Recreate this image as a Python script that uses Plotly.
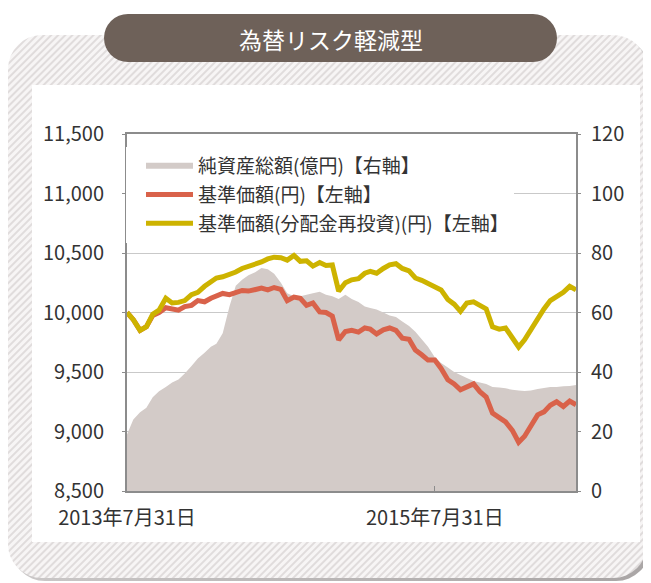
import base64
import plotly.graph_objects as go

# ---------------- data ----------------
dates = [
    "2013-07-31", "2013-08-15", "2013-08-31", "2013-09-15", "2013-09-30", "2013-10-15", "2013-10-31",
    "2013-11-15", "2013-11-30", "2013-12-15", "2013-12-31",
    "2014-01-15", "2014-01-31", "2014-02-15", "2014-02-28", "2014-03-15", "2014-03-31",
    "2014-04-15", "2014-04-30", "2014-05-15", "2014-05-31", "2014-06-15", "2014-06-30",
    "2014-07-15", "2014-07-31", "2014-08-15", "2014-08-31", "2014-09-15", "2014-09-30",
    "2014-10-15", "2014-10-31", "2014-11-15", "2014-11-30", "2014-12-15", "2014-12-31",
    "2015-01-15", "2015-01-31", "2015-02-15", "2015-02-28", "2015-03-15", "2015-03-31",
    "2015-04-15", "2015-04-30", "2015-05-15", "2015-05-31", "2015-06-15", "2015-06-30",
    "2015-07-15", "2015-07-31", "2015-08-15", "2015-08-31", "2015-09-15", "2015-09-30",
    "2015-10-15", "2015-10-31", "2015-11-15", "2015-11-30", "2015-12-15", "2015-12-31",
    "2016-01-15", "2016-01-31", "2016-02-15", "2016-02-29", "2016-03-15", "2016-03-31",
    "2016-04-15", "2016-04-30", "2016-05-15", "2016-05-31", "2016-06-15", "2016-06-30",
]

nav = [  # 基準価額(円) 左軸
    10000, 9940, 9850, 9880, 9975, 10000, 10040,
    10030, 10020, 10050, 10060,
    10100, 10090, 10120, 10140, 10160, 10150,
    10170, 10185, 10180, 10195, 10205, 10190,
    10210, 10195, 10100, 10130, 10120, 10060,
    10080, 10005, 10000, 9970, 9770, 9840,
    9850, 9835, 9870, 9860, 9820, 9855,
    9870, 9850, 9785, 9775, 9685, 9645,
    9600, 9600, 9530, 9435, 9400, 9350,
    9375, 9400, 9335, 9290, 9155, 9120,
    9080, 9010, 8910, 8960, 9040, 9140,
    9165, 9220, 9250, 9210, 9255, 9225,
]

nav_reinvested = [  # 基準価額(分配金再投資)(円) 左軸
    10000, 9940, 9850, 9880, 9985, 10020, 10120,
    10080, 10085, 10100, 10150,
    10170, 10220, 10255, 10290, 10300, 10320,
    10340, 10370, 10385, 10400, 10425, 10450,
    10465, 10460, 10440, 10480, 10430, 10435,
    10390, 10420, 10395, 10400, 10180, 10250,
    10275, 10285, 10330, 10345, 10330, 10370,
    10400, 10410, 10370, 10350, 10290, 10270,
    10240, 10220, 10190, 10110, 10070, 10010,
    10080, 10090, 10060, 10030, 9880, 9860,
    9870, 9790, 9710, 9770, 9860, 9960,
    10030, 10100, 10130, 10170, 10220, 10190,
]

net_assets = [  # 純資産総額(億円) 右軸
    19, 24, 26.5, 28, 31.5, 33.5, 35,
    36.5, 37.5, 39.5, 42,
    44.5, 46.5, 48.5, 49.5, 53, 62,
    69, 71, 72.5, 73.5, 75, 74.5,
    73, 70, 66.5, 65.5, 65.5, 66,
    66.5, 67, 66, 65.5, 64.5, 66,
    64.5, 63.5, 62, 61.5, 61, 60,
    59, 58.5, 57, 55.5, 53.5, 51,
    48.5, 45, 43, 41.5, 40, 39,
    38, 37, 36.5, 36, 35, 34.8,
    34.5, 34, 33.8, 33.6, 33.8, 34.3,
    34.6, 35, 35, 35.2, 35.3, 35.6,
]

x_tick_vals = ["2013-07-31", "2015-07-31"]
x_tick_text = ["2013年7月31日", "2015年7月31日"]
left_range = [8500, 11500]
right_range = [0, 120]

names = ["純資産総額(億円)【右軸】", "基準価額(円)【左軸】", "基準価額(分配金再投資)(円)【左軸】"]
title_text = "為替リスク軽減型"

# ---------------- layout geometry ----------------
# the page body has an 8px margin, so the figure is drawn 8px smaller and
# every reference (screen) coordinate below is shifted by OFF.
OFF = 8
W, H = 651 - OFF, 583 - OFF
L, R, T, B = 127 - OFF, 576 - OFF, 134 - OFF, 491 - OFF
PW, PH = R - L, B - T


def px(xs):
    return (xs - OFF - L) / PW


def py(ys):
    return (B - (ys - OFF)) / PH


FONT = "Noto Sans CJK JP, Noto Sans, sans-serif"
TXT = "#333333"
AXC = "#8c8c8c"

# decorative frame (hatched rounded panel + title pill) as background image,
# drawn in screen coordinates (viewBox starts at OFF)
svg = f"""<svg xmlns='http://www.w3.org/2000/svg' width='{W}' height='{H}' viewBox='{OFF} {OFF} {W} {H}' preserveAspectRatio='none'>
<defs>
<pattern id='h' width='5' height='5' patternUnits='userSpaceOnUse' patternTransform='rotate(45)'>
<rect width='5' height='5' fill='#f7f5f5'/>
<rect width='2' height='5' fill='#e0dcdc'/>
</pattern>
<linearGradient id='s' x1='0' y1='0' x2='1' y2='1'>
<stop offset='0' stop-color='#eceaea'/><stop offset='1' stop-color='#a9a5a5'/>
</linearGradient>
</defs>
<rect x='11' y='38' width='639' height='543' rx='34' fill='url(#s)'/>
<rect x='8' y='35' width='639' height='543' rx='34' fill='url(#h)'/>
<rect x='32' y='85' width='608' height='457' fill='#ffffff'/>
<rect x='104' y='14' width='453' height='48' rx='24' fill='#6e6159'/>
</svg>"""
svg_uri = "data:image/svg+xml;base64," + base64.b64encode(svg.encode("utf-8")).decode("ascii")

fig = go.Figure()

fig.add_trace(go.Scatter(
    x=dates, y=net_assets, name=names[0], mode="none", fill="tozeroy",
    fillcolor="#d3cbc8", yaxis="y", legendgroup="a",
))
fig.add_trace(go.Scatter(
    x=dates, y=nav, name=names[1], mode="lines",
    line=dict(color="#d9624a", width=5), yaxis="y2", legendgroup="b",
))
fig.add_trace(go.Scatter(
    x=dates, y=nav_reinvested, name=names[2], mode="lines",
    line=dict(color="#cdb300", width=5), yaxis="y2", legendgroup="c",
))

fig.update_layout(
    width=W, height=H,
    margin=dict(l=L, r=W - R, t=T, b=H - B, pad=0),
    paper_bgcolor="#ffffff",
    plot_bgcolor="rgba(0,0,0,0)",
    font=dict(family=FONT, size=19, color=TXT),
    showlegend=True,
    legend=dict(
        x=px(126), y=py(147), xanchor="left", yanchor="top",
        bgcolor="#ffffff", borderwidth=0,
        font=dict(family=FONT, size=19, color=TXT),
        itemwidth=47, indentation=15,
        traceorder="grouped", tracegroupgap=1,
        itemclick=False, itemdoubleclick=False,
    ),
    xaxis=dict(
        type="date", range=["2013-07-31", "2016-06-30"],
        tickmode="array", tickvals=x_tick_vals, ticktext=x_tick_text,
        ticks="inside", ticklen=5, tickwidth=1, tickcolor=AXC,
        showline=True, linecolor=AXC, linewidth=2, mirror=True,
        showgrid=False, zeroline=False,
        tickfont=dict(family=FONT, size=20, color=TXT),
        ticklabelstandoff=8,
    ),
    yaxis=dict(
        side="right", range=right_range, dtick=20, tick0=0,
        showgrid=True, gridcolor="#c9c9c9", gridwidth=1,
        showline=True, linecolor=AXC, linewidth=2, mirror=True,
        ticks="outside", ticklen=3, tickcolor=AXC,
        zeroline=False, fixedrange=True,
        tickfont=dict(family=FONT, size=20, color=TXT),
        ticklabelstandoff=6,
    ),
    yaxis2=dict(
        overlaying="y", side="left", range=left_range, dtick=500, tick0=8500,
        tickformat=",d", showgrid=False, zeroline=False,
        showline=True, linecolor=AXC, linewidth=2,
        ticks="outside", ticklen=3, tickcolor=AXC, fixedrange=True,
        tickfont=dict(family=FONT, size=20, color=TXT),
        ticklabelstandoff=14,
    ),
    images=[dict(
        source=svg_uri, xref="paper", yref="paper",
        x=px(OFF), y=py(OFF), sizex=W / PW, sizey=H / PH,
        xanchor="left", yanchor="top", sizing="stretch", layer="below",
    )],
    annotations=[dict(
        text=title_text, xref="paper", yref="paper",
        x=px(330.5), y=py(39), xanchor="center", yanchor="middle",
        showarrow=False, font=dict(family=FONT, size=23, color="#ffffff"),
    )],
)

fig.write_html("out.html", config={"displayModeBar": False})
